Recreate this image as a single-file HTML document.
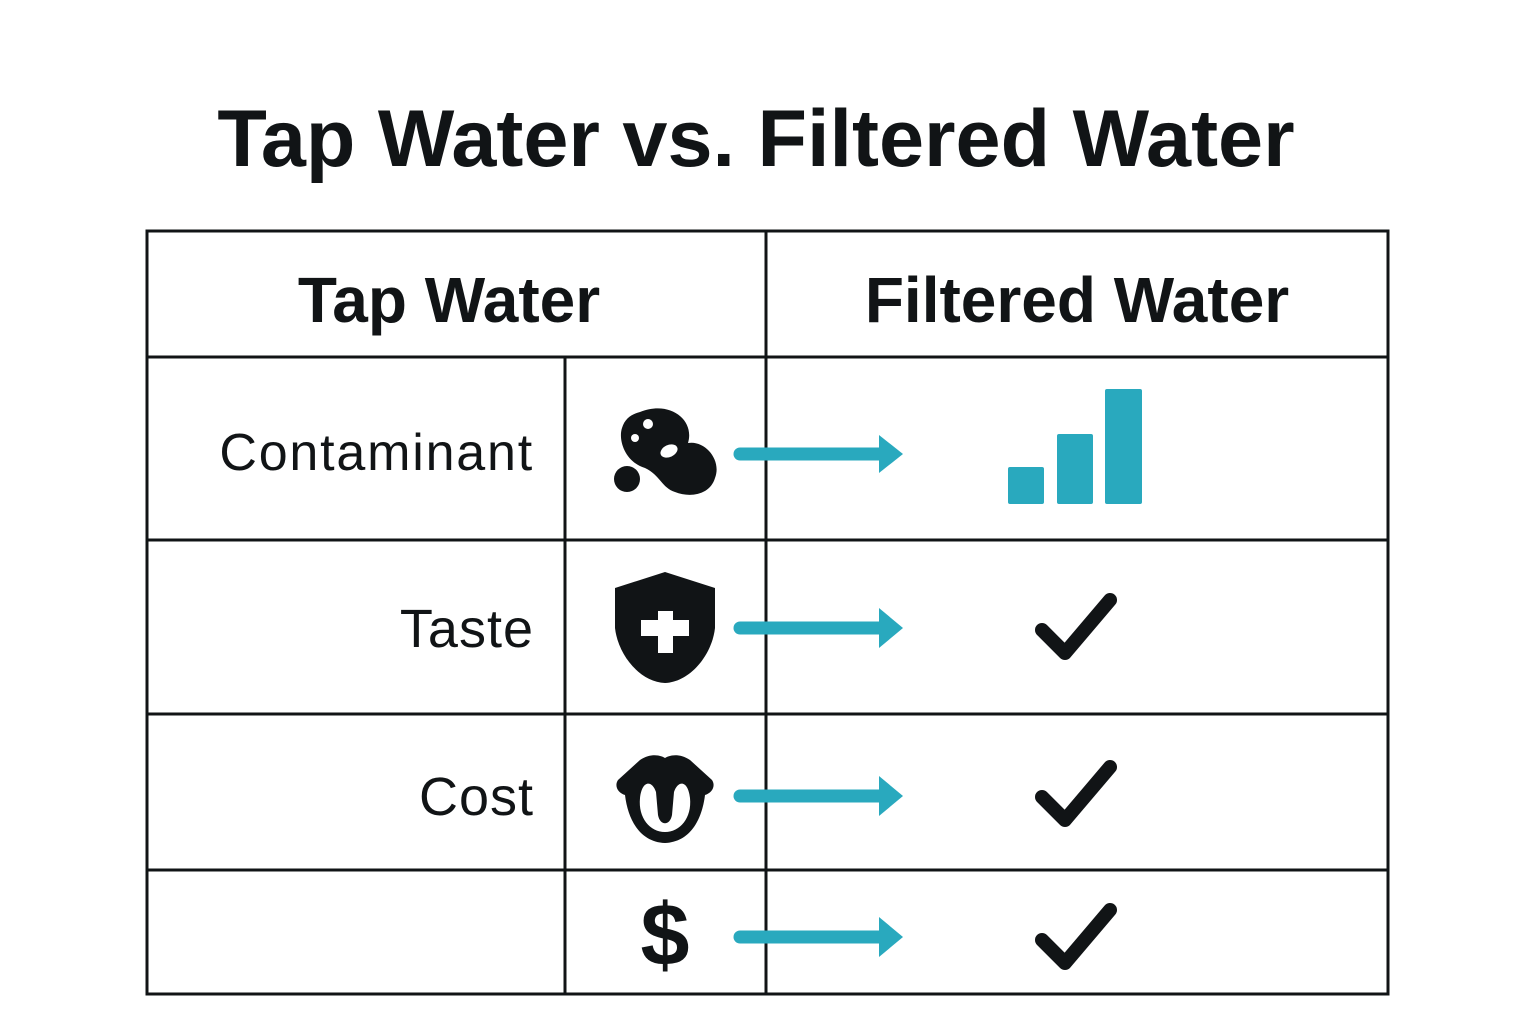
<!DOCTYPE html>
<html><head><meta charset="utf-8"><style>
body{margin:0;background:#fff}
svg{display:block}
</style></head><body>
<svg width="1536" height="1024" viewBox="0 0 1536 1024" xmlns="http://www.w3.org/2000/svg">
<rect width="1536" height="1024" fill="#fff"/>
<text x="756" y="166" text-anchor="middle" font-family="Liberation Sans, sans-serif" font-weight="bold" font-size="81" fill="#111416">Tap Water vs. Filtered Water</text>
<g stroke="#111416" stroke-width="3" fill="none">
<rect x="147" y="231" width="1241" height="763"/>
<line x1="766" y1="231" x2="766" y2="994"/>
<line x1="565" y1="357" x2="565" y2="994"/>
<line x1="147" y1="357" x2="1388" y2="357"/>
<line x1="147" y1="540" x2="1388" y2="540"/>
<line x1="147" y1="714" x2="1388" y2="714"/>
<line x1="147" y1="870" x2="1388" y2="870"/>
</g>
<g font-family="Liberation Sans, sans-serif" fill="#111416">
<text x="449" y="322" text-anchor="middle" font-size="64" font-weight="bold">Tap Water</text>
<text x="1077" y="322" text-anchor="middle" font-size="64" font-weight="bold">Filtered Water</text>
<text x="534" y="470" text-anchor="end" font-size="52" letter-spacing="1.8">Contaminant</text>
<text x="534" y="647" text-anchor="end" font-size="54" letter-spacing="1">Taste</text>
<text x="534" y="815" text-anchor="end" font-size="54" letter-spacing="1">Cost</text>
<text x="665" y="965" text-anchor="middle" font-size="88" font-weight="bold">$</text>
</g>
<g fill="#111416">
<path d="M640 412 C670 400 695 420 688 443 C705 440 722 460 715 478 C710 495 690 498 675 492 C662 488 660 475 645 468 C625 462 618 440 622 428 C625 418 632 414 640 412Z"/>
<circle cx="627" cy="479" r="13"/>
</g>
<g fill="#fff"><circle cx="648" cy="424" r="5"/><circle cx="635" cy="438" r="4"/><ellipse cx="669" cy="451" rx="9" ry="6" transform="rotate(-25 669 451)"/></g>
<path d="M665 572 L715 588 L715 628 C712 655 690 682 665 683 C640 682 618 655 615 628 L615 588 Z" fill="#111416"/>
<rect x="658" y="611" width="15" height="42" fill="#fff"/>
<rect x="641" y="620" width="48" height="16" fill="#fff"/>
<path d="M640 760 C652 752 662 756 665 758 C668 756 678 752 690 760 L712 780 C716 786 712 793 705 795 C702 820 690 842 665 843 C640 842 628 820 625 795 C618 793 614 786 618 780 Z" fill="#111416"/>
<path d="M640 798 C638 818 650 832 665 832 C680 832 692 818 690 798 C688 780 678 780 674 792 L672 815 C670 826 660 826 658 815 L656 792 C652 780 642 780 640 798Z" fill="#fff"/>
<g stroke="#29a9be" stroke-width="13" stroke-linecap="round" fill="#29a9be">
<line x1="740" y1="454" x2="880" y2="454"/>
<line x1="740" y1="628" x2="880" y2="628"/>
<line x1="740" y1="796" x2="880" y2="796"/>
<line x1="740" y1="937" x2="880" y2="937"/>
</g>
<g fill="#29a9be">
<path d="M879 435 L903 454 L879 473Z"/>
<path d="M879 608 L903 628 L879 648Z"/>
<path d="M879 776 L903 796 L879 816Z"/>
<path d="M879 917 L903 937 L879 957Z"/>
<rect x="1008" y="467" width="36" height="37" rx="2"/>
<rect x="1057" y="434" width="36" height="70" rx="2"/>
<rect x="1105" y="389" width="37" height="115" rx="2"/>
</g>
<g stroke="#111416" stroke-width="14" stroke-linecap="round" stroke-linejoin="round" fill="none">
<polyline points="1042,630 1065,653 1110,600"/>
<polyline points="1042,797 1065,820 1110,767"/>
<polyline points="1042,940 1065,963 1110,910"/>
</g>
</svg>
</body></html>
